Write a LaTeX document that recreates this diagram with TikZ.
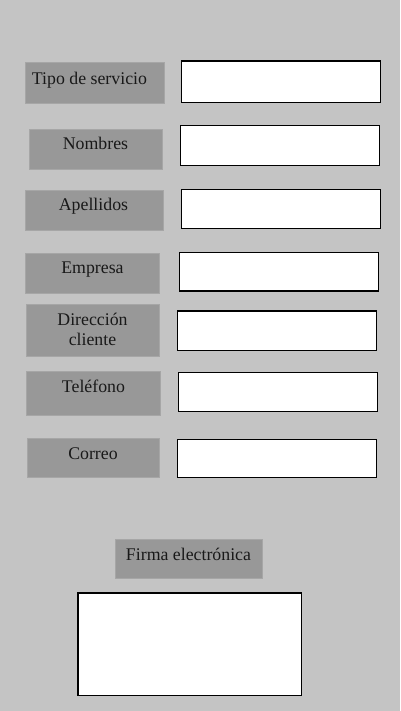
\documentclass[tikz,border=0pt]{standalone}
\usepackage{fontspec}
\setmainfont{Liberation Serif}
\begin{document}
\begin{tikzpicture}[x=1pt,y=-1pt,
  lbl/.style={draw=lblborder,line width=0.8pt,fill=lblfill,inner sep=0pt,outer sep=0pt},
  fld/.style={draw=black,line width=1.2pt,fill=white,inner sep=0pt,outer sep=0pt},
  txt/.style={anchor=base,inner sep=0pt,font=\fontsize{17.8}{21}\selectfont,text=black!90}]
\definecolor{bgc}{HTML}{C4C4C4}
\definecolor{lblfill}{HTML}{989898}
\definecolor{lblborder}{HTML}{A6A6A6}
\fill[bgc] (0,0) rectangle (400,711);
\useasboundingbox (0,0) rectangle (400,711);
% Tipo de servicio
\node[lbl,minimum width=138.3pt,minimum height=40.7pt] (l1) at (94.85,82.65) {};
\node[txt] (t1) at (89.5,85) {Tipo de servicio};
\node[fld,minimum width=199.4pt,minimum height=41.3pt] (f1) at (281,81.65) {};
% Nombres
\node[lbl,minimum width=133.3pt,minimum height=39.6pt] (l2) at (95.65,149.5) {};
\node[txt] (t2) at (95.5,150) {Nombres};
\node[fld,minimum width=199pt,minimum height=40pt] (f2) at (279.8,145.3) {};
% Apellidos
\node[lbl,minimum width=137.3pt,minimum height=39.3pt] (l3) at (94.35,210.35) {};
\node[txt] (t3) at (93.5,210.7) {Apellidos};
\node[fld,minimum width=199.4pt,minimum height=39pt] (f3) at (281,208.8) {};
% Empresa
\node[lbl,minimum width=133.3pt,minimum height=39.6pt] (l4) at (92.35,273.5) {};
\node[txt] (t4) at (92.5,273.3) {Empresa};
\node[fld,minimum width=199.4pt,minimum height=38.7pt] (f4) at (279,271.65) {};
% Direccion cliente
\node[lbl,minimum width=132.3pt,minimum height=51.7pt] (l5) at (92.85,330.15) {};
\node[txt] (t5a) at (92.5,325) {Dirección};
\node[txt] (t5b) at (92.5,345) {cliente};
\node[fld,minimum width=199.4pt,minimum height=39.3pt] (f5) at (277,330.65) {};
% Telefono
\node[lbl,minimum width=133.3pt,minimum height=43.3pt] (l6) at (93.35,393.35) {};
\node[txt] (t6) at (93.5,392) {Teléfono};
\node[fld,minimum width=199.4pt,minimum height=39.4pt] (f6) at (278,392) {};
% Correo
\node[lbl,minimum width=131.3pt,minimum height=39pt] (l7) at (93.35,457.8) {};
\node[txt] (t7) at (93,459) {Correo};
\node[fld,minimum width=199.4pt,minimum height=38.4pt] (f7) at (277,458.5) {};
% Firma
\node[lbl,minimum width=146.3pt,minimum height=38.7pt] (l8) at (188.85,558.65) {};
\node[txt] (t8) at (188.5,560) {Firma electrónica};
\node[fld,minimum width=223.7pt,minimum height=102.3pt] (f8) at (189.85,644.15) {};
\end{tikzpicture}
\end{document}
